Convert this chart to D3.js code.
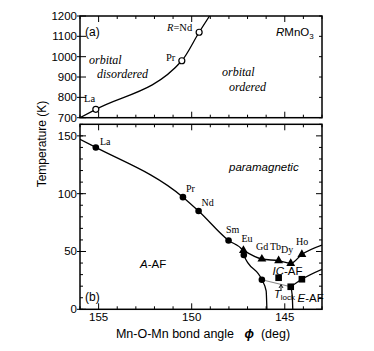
<!DOCTYPE html>
<html><head><meta charset="utf-8">
<script src="https://cdn.jsdelivr.net/npm/d3@7"></script>
<style>body{margin:0;background:#fff}svg{display:block}</style>
</head><body>
<svg id="c" width="374" height="351"></svg>
<script>
// ---- data ----
const xDomain = [156, 143];
const topYDomain = [700, 1200];
const botYDomain = [0, 160];
const xMajorTicks = [155, 150, 145];
const xMinorTicks = d3.range(143, 157, 1);
const topYTicks = [700, 800, 900, 1000, 1100, 1200];
const botYMajor = [0, 50, 100, 150];
const botYMinor = d3.range(0, 161, 10);

// (a) orbital ordering temperature curve
const tooAngle = [156.0, 155.15, 150.53, 149.6, 149.04];
const tooTemp  = [700, 741, 980, 1120, 1200];
const tooPts   = ["", "La", "Pr", "Nd", ""];

// (b) Neel temperature of A-AF (circles)
const tnAngle = [156.0, 155.15, 150.47, 149.63, 148.02, 147.25, 147.2, 146.23, 146.0, 145.96];
const tnTemp  = [147, 140, 97, 85, 59.5, 51, 47, 25.5, 16, 0];
const circAngle = [155.15, 150.47, 149.63, 148.02, 147.2, 146.23];
const circTemp  = [140, 97, 85, 59.5, 47, 25.5];
// triangles (IC-AF)
const triAngle = [147.22, 146.23, 145.33, 144.68, 144.08];
const triTemp  = [51, 43.5, 42, 39.7, 47.5];
const triLineAngle = [147.22, 146.23, 145.33, 144.68, 144.08, 143.0];
const triLineTemp  = [51, 43.5, 42, 39.7, 47.5, 55.6];
// squares (E-AF / lock-in)
const sqAngle = [145.33, 144.68, 144.08];
const sqTemp  = [27.3, 19.5, 26];
const lockAngle = [146.23, 144.68];
const lockTemp  = [25.5, 19.5];
const eLineAngle = [144.68, 144.08, 143.0];
const eLineTemp  = [19.5, 26, 34.6];
const eVertAngle = [144.68, 144.6, 144.57];
const eVertTemp  = [19.5, 12, 0];

const elemLabels = ["La","Pr","Nd","Sm","Eu","Gd","Tb","Dy","Ho"];

// ---- layout ----
const L = 80, R = 322;
const topT = 16, topB = 117.7, botT = 124.3, botB = 309.3;
const svg = d3.select("#c");
const x = d3.scaleLinear().domain(xDomain).range([L, R]);
const yT = d3.scaleLinear().domain(topYDomain).range([topB, topT]);
const yB = d3.scaleLinear().domain(botYDomain).range([botB, botT]);
const sans = "'Liberation Sans', Arial, sans-serif";
const serif = "'Liberation Serif', 'Times New Roman', serif";

function ticks(yScale, yTop, yBot, leftMajor, leftMinor, rightTicks, rightMajor) {
  const g = svg.append("g").attr("stroke", "#000").attr("stroke-width", 1);
  xMinorTicks.forEach(v => {
    const len = xMajorTicks.includes(v) ? 6 : 3;
    g.append("line").attr("x1", x(v)).attr("x2", x(v)).attr("y1", yBot).attr("y2", yBot - len);
    g.append("line").attr("x1", x(v)).attr("x2", x(v)).attr("y1", yTop).attr("y2", yTop + len);
  });
  leftMinor.forEach(v => {
    g.append("line").attr("x1", L).attr("x2", L + 3).attr("y1", yScale(v)).attr("y2", yScale(v));
  });
  leftMajor.forEach(v => {
    g.append("line").attr("x1", L - 3).attr("x2", L + 6).attr("y1", yScale(v)).attr("y2", yScale(v));
  });
  rightTicks.forEach(v => {
    const len = rightMajor.includes(v) ? 6 : 3;
    g.append("line").attr("x1", R).attr("x2", R - len).attr("y1", yScale(v)).attr("y2", yScale(v));
  });
  g.append("rect").attr("x", L).attr("y", yTop).attr("width", R - L).attr("height", yBot - yTop)
    .attr("fill", "none").attr("stroke-width", 1.5);
}

// clip paths
const defs = svg.append("defs");
defs.append("clipPath").attr("id", "ct").append("rect").attr("x", L).attr("y", topT).attr("width", R - L).attr("height", topB - topT);
defs.append("clipPath").attr("id", "cb").append("rect").attr("x", L).attr("y", botT).attr("width", R - L).attr("height", botB - botT);

// ---------- panel (a) ----------
ticks(yT, topT, topB, topYTicks, [], topYTicks, []);
const lineT = d3.line().x(d => x(d[0])).y(d => yT(d[1])).curve(d3.curveMonotoneX);
svg.append("path").attr("clip-path", "url(#ct)")
  .attr("d", lineT(d3.zip(tooAngle, tooTemp)))
  .attr("fill", "none").attr("stroke", "#000").attr("stroke-width", 1.3);
tooAngle.forEach((a, i) => {
  if (!tooPts[i]) return;
  svg.append("circle").attr("cx", x(a)).attr("cy", yT(tooTemp[i])).attr("r", 3)
    .attr("fill", "#fff").attr("stroke", "#000").attr("stroke-width", 1.2);
});
topYTicks.forEach(v => {
  svg.append("text").attr("x", 77).attr("y", yT(v) + 4).attr("text-anchor", "end")
    .attr("font-family", sans).attr("font-size", 11.5).text(v);
});
function txt(px, py, s, opts) {
  const t = svg.append("text").attr("x", px).attr("y", py)
    .attr("font-family", opts.font || sans).attr("font-size", opts.size || 11);
  if (opts.italic) t.attr("font-style", "italic");
  if (opts.anchor) t.attr("text-anchor", opts.anchor);
  if (opts.fill) t.attr("fill", opts.fill);
  return t.text(s);
}
txt(85, 36, "(a)", {size: 12});
const rnd = svg.append("text").attr("x", 167).attr("y", 31).attr("font-family", serif).attr("font-size", 10.5);
rnd.append("tspan").attr("font-style", "italic").text("R");
rnd.append("tspan").text("=Nd");
txt(166, 61, "Pr", {font: serif, size: 10.5});
txt(84, 102, "La", {font: serif, size: 10.5});
txt(89, 64, "orbital", {font: serif, size: 12, italic: true});
txt(97, 78, "disordered", {font: serif, size: 12, italic: true});
txt(222, 76, "orbital", {font: serif, size: 12, italic: true});
txt(229, 91, "ordered", {font: serif, size: 12, italic: true});
const rm = svg.append("text").attr("x", 276).attr("y", 36).attr("font-family", sans).attr("font-size", 11.5);
rm.append("tspan").attr("font-style", "italic").text("R");
rm.append("tspan").text("MnO");
rm.append("tspan").attr("font-size", 8).attr("dy", 3).text("3");

// ---------- panel (b) ----------
ticks(yB, botT, botB, botYMajor, botYMinor, botYMinor, botYMajor);
const lineB = d3.line().x(d => x(d[0])).y(d => yB(d[1])).curve(d3.curveMonotoneX);
function pathB(a, t, color, w) {
  svg.append("path").attr("clip-path", "url(#cb)")
    .attr("d", lineB(d3.zip(a, t)))
    .attr("fill", "none").attr("stroke", color).attr("stroke-width", w);
}
pathB(tnAngle, tnTemp, "#000", 1.3);
pathB(triLineAngle, triLineTemp, "#000", 1.3);
pathB(lockAngle, lockTemp, "#888", 1.1);
pathB(eLineAngle, eLineTemp, "#000", 1.3);
pathB(eVertAngle, eVertTemp, "#000", 1.3);

circAngle.forEach((a, i) => {
  svg.append("circle").attr("cx", x(a)).attr("cy", yB(circTemp[i])).attr("r", 3.3).attr("fill", "#000");
});
const triSym = d3.symbol().type(d3.symbolTriangle).size(34);
triAngle.forEach((a, i) => {
  svg.append("path").attr("d", triSym()).attr("transform", `translate(${x(a)},${yB(triTemp[i])})`).attr("fill", "#000");
});
const sqSym = d3.symbol().type(d3.symbolSquare).size(44);
sqAngle.forEach((a, i) => {
  svg.append("path").attr("d", sqSym()).attr("transform", `translate(${x(a)},${yB(sqTemp[i])})`).attr("fill", "#000");
});

botYMajor.forEach(v => {
  svg.append("text").attr("x", 77).attr("y", yB(v) + 4).attr("text-anchor", "end")
    .attr("font-family", sans).attr("font-size", 11.5).text(v);
});
xMajorTicks.forEach(v => {
  svg.append("text").attr("x", x(v)).attr("y", 321).attr("text-anchor", "middle")
    .attr("font-family", sans).attr("font-size", 11.5).text(v);
});

// element labels (b)
const elemPos = [[100, 144.5], [186, 192], [201.5, 205.5], [226, 233], [241.5, 242], [256, 249.5], [270, 249.5], [281, 253], [296, 245]];
elemLabels.forEach((s, i) => txt(elemPos[i][0], elemPos[i][1], s, {font: serif, size: 10}));

txt(229, 171, "paramagnetic", {size: 11.5, italic: true});
const aaf = svg.append("text").attr("x", 140).attr("y", 267.5).attr("font-family", sans).attr("font-size", 11.5);
aaf.append("tspan").attr("font-style", "italic").text("A");
aaf.append("tspan").text("-AF");
txt(85, 301, "(b)", {size: 12});
const icaf = svg.append("text").attr("x", 272.5).attr("y", 275).attr("font-family", sans).attr("font-size", 11.5);
icaf.append("tspan").attr("font-style", "italic").text("IC");
icaf.append("tspan").text("-AF");
const eaf = svg.append("text").attr("x", 297.5).attr("y", 301.5).attr("font-family", sans).attr("font-size", 11.5);
eaf.append("tspan").attr("font-style", "italic").text("E");
eaf.append("tspan").text("-AF");
const tl = svg.append("text").attr("x", 274).attr("y", 298).attr("font-family", sans).attr("font-size", 11);
tl.append("tspan").attr("font-style", "italic").text("T");
tl.append("tspan").attr("font-size", 8).attr("dy", 2).text("lock");
svg.append("line").attr("x1", 281).attr("x2", 281).attr("y1", 291).attr("y2", 285.5).attr("stroke", "#000").attr("stroke-width", 0.9);
svg.append("path").attr("d", "M279,288 L281,284.5 L283,288").attr("fill", "none").attr("stroke", "#000").attr("stroke-width", 0.9);

// axis titles
const xl = svg.append("text").attr("x", 203).attr("y", 338).attr("text-anchor", "middle")
  .attr("font-family", sans).attr("font-size", 12.5);
xl.append("tspan").text("Mn-O-Mn bond angle\u00a0\u00a0\u00a0");
xl.append("tspan").attr("font-style", "italic").attr("font-weight", "bold").text("ϕ");
xl.append("tspan").text("\u00a0\u00a0(deg)");
svg.append("text").attr("transform", "translate(46,144) rotate(-90)").attr("text-anchor", "middle")
  .attr("font-family", sans).attr("font-size", 12).text("Temperature (K)");
</script>
</body></html>
